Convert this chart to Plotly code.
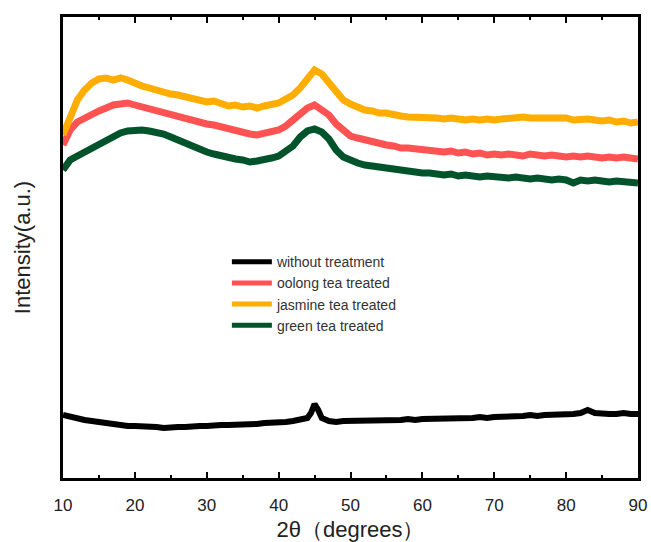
import plotly.graph_objects as go

# 2-theta positions (degrees)
two_theta = list(range(10, 91))

# Intensities (a.u., arbitrary offsets as drawn)
jasmine_py = [135, 118, 100, 90, 83, 79, 78, 80, 78, 80, 84, 86, 88, 90, 93, 94, 95, 97, 99, 100,
              102, 101, 104, 106, 105, 107, 106, 108, 106, 104, 103, 99, 95, 88, 78, 70, 74, 83, 92, 100,
              104, 107, 110, 111, 113, 113, 115, 116, 117, 117, 118, 117, 118, 119, 118, 119, 120, 119, 120, 119,
              120, 119, 118, 118, 117, 118, 118, 119, 118, 119, 118, 120, 119, 119, 120, 121, 120, 122, 121, 123, 122]
oolong_py = [145, 130, 122, 118, 114, 111, 108, 105, 104, 103, 105, 107, 109, 110, 113, 115, 117, 119, 121, 122,
             124, 125, 127, 129, 130, 132, 134, 135, 133, 132, 130, 126, 120, 114, 108, 105, 109, 115, 124, 131,
             136, 138, 140, 142, 143, 145, 146, 148, 148, 149, 150, 150, 151, 152, 151, 153, 152, 154, 153, 155,
             154, 155, 154, 155, 156, 154, 155, 156, 155, 156, 157, 156, 157, 156, 157, 158, 157, 158, 157, 158, 159]
green_py = [170, 160, 156, 152, 148, 145, 141, 137, 133, 131, 130, 130, 131, 132, 134, 137, 140, 144, 147, 150,
            152, 154, 156, 157, 159, 160, 162, 161, 160, 158, 156, 152, 146, 137, 131, 129, 132, 139, 150, 157,
            161, 163, 165, 166, 167, 168, 170, 171, 172, 172, 173, 173, 174, 175, 174, 176, 175, 176, 177, 176,
            177, 177, 178, 177, 178, 179, 178, 179, 180, 179, 180, 183, 180, 181, 180, 181, 182, 181, 182, 183, 183]

black_x = [10, 11, 12, 13, 14, 15, 16, 17, 18, 19, 20, 21, 22, 23, 24, 25, 26, 27, 28, 29, 30,
           31, 32, 33, 34, 35, 36, 37, 38, 39, 40, 41, 42, 43, 44, 44.5, 45, 45.5, 46, 47, 48, 49, 50,
           51, 52, 53, 54, 55, 56, 57, 58, 59, 60, 61, 62, 63, 64, 65, 66, 67, 68, 69, 70,
           71, 72, 73, 74, 75, 76, 77, 78, 79, 80, 81, 82, 83, 84, 85, 86, 87, 88, 89, 90]
black_py = [415, 417, 419, 420, 421, 422, 424, 425, 425, 426, 426, 426, 427, 427, 428, 427, 427, 427, 426, 426, 426,
            425, 425, 425, 425, 424, 424, 424, 423, 423, 422, 422, 421, 420, 418, 413, 404, 410, 418, 421, 422, 421, 421,
            421, 421, 420, 421, 420, 420, 420, 419, 420, 419, 419, 419, 418, 419, 418, 418, 418, 417, 418, 417,
            417, 417, 416, 416, 415, 416, 415, 415, 414, 414, 414, 413, 410, 413, 414, 414, 414, 413, 414, 414]

TOP = 478
series = [
    ("without treatment", black_x, black_py, "#000000", 6),
    ("oolong tea treated", two_theta, oolong_py, "#FF5252", 7),
    ("jasmine tea treated", two_theta, jasmine_py, "#FFAE00", 7),
    ("green tea treated", two_theta, green_py, "#00532A", 7),
]

fig = go.Figure()
for i, (name, xs, pys, color, w) in enumerate(series):
    fig.add_trace(go.Scatter(
        x=xs, y=[TOP - p for p in pys], mode="lines", name=name,
        line=dict(color=color, width=w), showlegend=False, legendgroup=name,
    ))
# legend entries (thinner sample lines)
for name, xs, pys, color, w in series:
    fig.add_trace(go.Scatter(
        x=[None], y=[None], mode="lines", name=name,
        line=dict(color=color, width=5), legendgroup=name, showlegend=True,
    ))

font_family = "Arial, Liberation Sans, sans-serif"
fig.update_layout(
    width=651, height=542,
    margin=dict(l=63, r=13, t=17, b=64, autoexpand=False),
    paper_bgcolor="white", plot_bgcolor="white",
    font=dict(family=font_family, color="#222222"),
    legend=dict(
        x=0.285, y=0.503, xanchor="left", yanchor="top",
        bgcolor="rgba(0,0,0,0)", font=dict(size=14, color="#333333"),
        tracegroupgap=0, itemwidth=40,
    ),
    showlegend=True,
)
fig.update_xaxes(
    range=[10, 90], tickvals=[10, 20, 30, 40, 50, 60, 70, 80, 90],
    ticks="inside", ticklen=6, tickwidth=2, tickcolor="black",
    minor=dict(tickvals=[15, 25, 35, 45, 55, 65, 75, 85], ticks="inside", ticklen=3, tickwidth=2, tickcolor="black"),
    showline=True, linecolor="black", linewidth=3, mirror="ticks",
    showgrid=False, zeroline=False, automargin=False,
    tickfont=dict(size=17, color="#222222"), ticklabelstandoff=10,
    title=dict(text="2θ（degrees）", font=dict(size=22, color="#222222"), standoff=12),
)
fig.update_yaxes(
    range=[0, 461], showticklabels=False, ticks="",
    showline=True, linecolor="black", linewidth=3, mirror=True,
    showgrid=False, zeroline=False, automargin=False,
    title=dict(text="Intensity(a.u.)", font=dict(size=22, color="#222222"), standoff=24),
)

fig.write_html("out.html")
